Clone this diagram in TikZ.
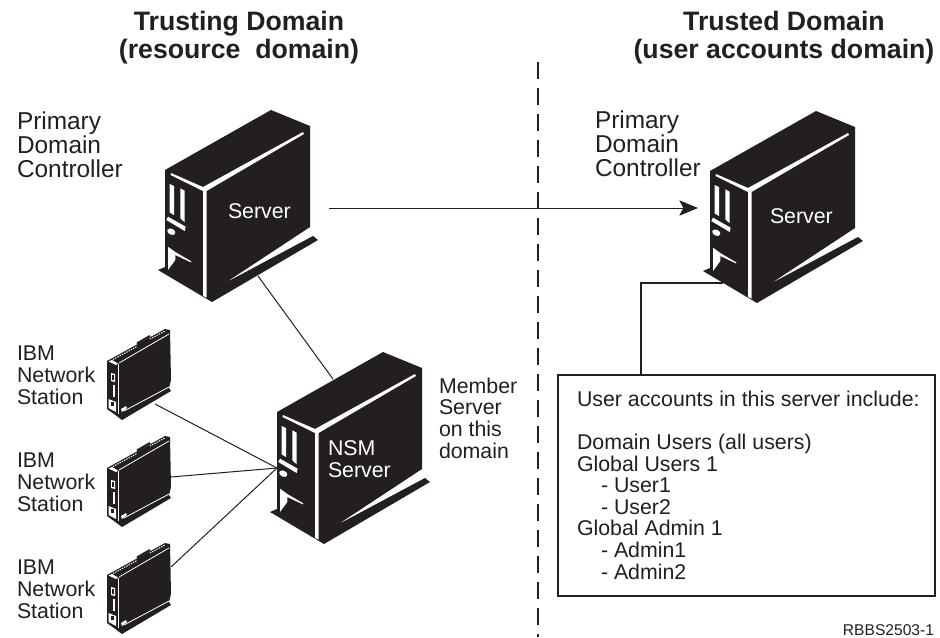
\documentclass[tikz,border=0pt]{standalone}
\usepackage{fontspec}
\setmainfont{Liberation Sans}
\usetikzlibrary{arrows.meta}
\definecolor{ink}{HTML}{231F20}
\tikzset{
  lbl/.style={inner sep=0pt,outer sep=0pt,anchor=base west,align=left,text=ink,font=\fontsize{16}{16.2}\selectfont},
  bigl/.style={lbl,font=\fontsize{18.3}{18}\selectfont},
  titlel/.style={inner sep=0pt,outer sep=0pt,anchor=base,align=center,text=ink,font=\bfseries\fontsize{20}{21}\selectfont},
  srvl/.style={lbl,text=white},
  wire/.style={draw=ink,line width=0.75pt},
  hwire/.style={draw=ink,line width=1pt},
  divider/.style={draw=ink,line width=1pt,dash pattern=on 13pt off 6.5pt},
}
\newcommand{\serverbody}{%
  \fill[ink] (7,-3) -- (7,-100) -- (113,-160) -- (152,-144) -- (152,-43) -- (67,13) -- (155,-34) -- (160,-30) -- (54,32) -- (0,0) -- cycle;
  \fill[white] (13,-97) -- (45,-83) -- (145,-138) -- (146,-136) -- (48.5,-79) -- (48.5,27.5) -- (45,26) -- (45,-79) -- (12.5,-95) -- cycle;
  \fill[white] (11.7,-86) -- (16,-84) -- (16,-55) -- (11.7,-57.5) -- cycle;
  \fill[white] (22.3,-81.7) -- (26.7,-79.3) -- (26.7,-47.7) -- (22.3,-51.7) -- cycle;
  \fill[white] (8.3,-50) -- (10,-53.3) -- (27.7,-43.3) -- (26.7,-39) -- cycle;
  \fill[white,rotate around={-25:(13.3,-38.3)}] (13.3,-38.3) ellipse [x radius=4.3,y radius=3];
  \fill[white] (10,-23.3) -- (17.3,-18) -- (33.3,-8.6) -- (33,-7.6) -- (17.3,-15) -- (17.3,-10) -- (10,0) -- cycle;
}
\newcommand{\stationbody}{%
  \fill[ink] (0,0) -- (58,-32) -- (63,-31) -- (64,19) -- (62,27) -- (64,30) -- (15,59) -- (7,53) -- (0,48) -- cycle;
  \draw[ink,line width=1.6pt] (30,-17.5) -- (43,-25);
  \draw[white,line width=0.6pt] (12,2) -- (62,-27);
  \draw[white,line width=0.8pt,dash pattern=on 1pt off 0.9pt] (6,-1.5) -- (30,-14.5);
  \draw[white,line width=0.8pt,dash pattern=on 1pt off 0.9pt] (43,-22) -- (58,-30);
  \fill[white] (1.5,0.5) -- (5,-1) -- (11,2.5) -- (9,4) -- cycle;
  \draw[white,line width=0.5pt] (11,3) -- (11,53);
  \fill[white] (4,12) -- (8,13) -- (8,21) -- (4,20) -- cycle;
  \fill[ink] (5.3,14) rectangle (7,19);
  \fill[white] (6,24) rectangle (8,36);
  \fill[white] (1.5,38) -- (9,41) -- (9,51) -- (1.5,47) -- cycle;
  \fill[ink] (3.5,41) rectangle (7,45);
  \fill[white] (14,48) -- (19,45) -- (20,47) -- (15,51) -- cycle;
  \draw[white,line width=0.6pt] (17,50) -- (62,26);
}
\begin{document}
\begin{tikzpicture}[x=0.75pt,y=-0.75pt]
\useasboundingbox (0,0) rectangle (940,637);
\fill[white] (0,0) rectangle (940,637);

% divider
\coordinate (divtop) at (538,62);
\coordinate (divbot) at (538,637);
\path[divider] (divtop) -- (divbot);

% titles
\node[titlel] (t1) at (239,58) {Trusting Domain\\(resource\ \ domain)};
\node[titlel] (t2) at (784,58) {Trusted Domain\\(user accounts domain)};

% servers
\begin{scope}[shift={(158,270)}]\serverbody\end{scope}
\begin{scope}[shift={(270,512)}]\serverbody\end{scope}
\begin{scope}[shift={(703,271)}]\serverbody\end{scope}
\node[srvl] (srv1) at (228,218) {Server};
\node[srvl] (srv2) at (770,223) {Server};
\node[srvl] (nsm) at (328,477) {NSM\\Server};

% stations
\begin{scope}[shift={(107,361)}]\stationbody\end{scope}
\begin{scope}[shift={(107,468)}]\stationbody\end{scope}
\begin{scope}[shift={(107,575)}]\stationbody\end{scope}

% labels
\node[bigl] (pdc1) at (17,177) {Primary\\Domain\\Controller};
\node[bigl] (pdc2) at (595,176) {Primary\\Domain\\Controller};
\node[lbl] (ibm1) at (17,404) {IBM\\Network\\Station};
\node[lbl] (ibm2) at (17,511) {IBM\\Network\\Station};
\node[lbl] (ibm3) at (17,618) {IBM\\Network\\Station};
\node[lbl] (member) at (439,458) {Member\\Server\\on this\\domain};

% accounts box
\node[draw=ink,line width=1pt,inner sep=0pt,outer sep=0pt,anchor=north west,
      minimum width=282.75pt,minimum height=165.75pt] (box) at (558,375) {};
\node[lbl] (boxtext) at (577,579) {User accounts in this server include:\\[16pt]Domain Users (all users)\\Global Users 1\\\hspace*{18pt}- User1\\\hspace*{18pt}- User2\\Global Admin 1\\\hspace*{18pt}- Admin1\\\hspace*{18pt}- Admin2};
\node[lbl,font=\fontsize{11.7}{12}\selectfont,anchor=base east] (ref) at (934,635) {RBBS2503-1};

% connection points
\coordinate (s1out) at (329,208);
\coordinate (s2in) at (698,208);
\coordinate (s1foot) at (258,276);
\coordinate (nsmtop) at (333,379);
\coordinate (nsmport) at (277,468);
\coordinate (st1) at (155,404);
\coordinate (st2) at (171,477);
\coordinate (st3) at (171,567);
\coordinate (s2foot) at (723,283);
\coordinate (boxport) at (641,375);

% connectors
\draw[wire,-{Stealth[length=14pt,width=11.5pt,inset=3pt]}] (s1out) -- (s2in);
\draw[wire] (s1foot) -- (nsmtop);
\draw[wire] (st1) -- (nsmport);
\draw[wire] (st2) -- (nsmport);
\draw[wire] (st3) -- (nsmport);
\draw[hwire] (s2foot) -| (boxport);
\end{tikzpicture}
\end{document}
